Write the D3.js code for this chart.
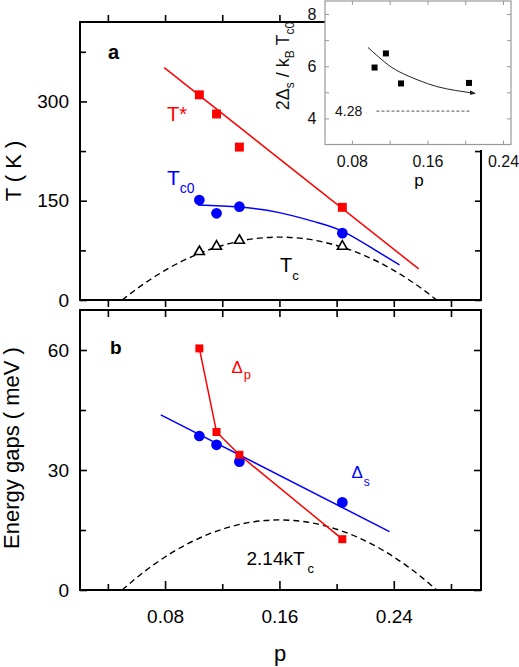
<!DOCTYPE html>
<html><head><meta charset="utf-8">
<script src="https://cdn.jsdelivr.net/npm/d3@7"></script>
<style>
html,body{margin:0;padding:0;background:#fff;}
svg{display:block;font-family:"Liberation Sans",Arial,Helvetica,sans-serif;}
</style></head>
<body><svg id="c" width="519" height="667"></svg>
<script>
// ---------- data ----------
const dopings = [0.104, 0.116, 0.132, 0.204];
const tStar = [310, 281, 231, 140];
const tc0 = [151, 131, 141, 101];
const tc = [73, 81, 90, 81];
const deltaP = [60.4, 39.5, 33.8, 12.7];
const deltaS = [38.5, 36.3, 32.1, 21.9];
const ratio = [5.95, 6.49, 5.34, 5.36];

const tStarFitP = [0.0794, 0.2574];
const tStarFitT = [351, 47];
const tc0FitP = [0.103, 0.132, 0.160, 0.185, 0.204, 0.225, 0.244];
const tc0FitT = [143.5, 140.5, 132, 118, 104, 78, 53];
const deltaSFitP = [0.077, 0.237];
const deltaSFitE = [43.8, 14.6];

const domeP = [0.05,0.06,0.07,0.08,0.09,0.10,0.11,0.12,0.13,0.14,0.15,0.16,0.17,0.18,0.19,0.20,0.21,0.22,0.23,0.24,0.25,0.26,0.27];
const tcDome = [0,16.5,31.4,44.8,56.6,66.7,75.4,82.4,87.9,91.9,94.2,95,94.2,91.9,87.9,82.4,75.4,66.7,56.6,44.8,31.4,16.5,0];
const gapDome = [0,3.04,5.79,8.26,10.44,12.30,13.90,15.19,16.21,16.95,17.37,17.52,17.37,16.95,16.21,15.19,13.90,12.30,10.44,8.26,5.79,3.04,0];

const insetFitP = [0.097, 0.115, 0.130, 0.150, 0.170, 0.190, 0.210];
const insetFitV = [6.72, 6.15, 5.79, 5.47, 5.22, 5.07, 4.96];
const bcsP = [0.106, 0.205];
const bcsV = [4.28, 4.28];

const xMajor = [0.08, 0.16, 0.24];
const xAll = [0.04, 0.08, 0.12, 0.16, 0.20, 0.24, 0.28];
const xMinor = [0.04, 0.12, 0.20, 0.28];
const yTopMajor = [0, 150, 300];
const yTopMinor = [75, 225, 375];
const yBotMajor = [0, 30, 60];
const yBotMinor = [15, 45];
const inXMajor = [0.08, 0.16, 0.24];
const inXMinor = [0.12, 0.20];
const inYMajor = [4, 6, 8];
const inYMinor = [5, 7];

// ---------- layout ----------
const svg = d3.select("#c");
const L = 80, R = 481;
const x = d3.scaleLinear([0.0205, 0.301], [L, R]);
const yT = d3.scaleLinear([0, 420], [300, 22]);
const yB = d3.scaleLinear([0, 70], [590, 310]);
const xI = d3.scaleLinear([0.0515, 0.2485], [325, 511]);
const yI = d3.scaleLinear([3, 8.5], [144.5, 1]);
const RED = "#ff0000", BLUE = "#0000ff";

function axis(gen, tx, ty, vals, size, fmt, pad, fs, color) {
  const g = svg.append("g").attr("transform", `translate(${tx},${ty})`)
    .call(gen.tickValues(vals).tickSize(size).tickPadding(pad)
      .tickFormat(fmt ? (d => fmt(d)) : () => ""));
  g.select(".domain").remove();
  g.selectAll("line").attr("stroke", color || "#000").attr("stroke-width", color ? 1 : 1.6);
  g.selectAll("text").attr("font-size", fs || 19).attr("fill", "#000").attr("font-family", null);
  if (!fmt) g.selectAll("text").remove();
  return g;
}
const f2 = d3.format(".2f");

// ---- panel a frame & axes
svg.append("rect").attr("x", L).attr("y", yT(420)).attr("width", R - L).attr("height", yT(0) - yT(420))
  .attr("fill", "none").attr("stroke", "#000").attr("stroke-width", 2);
axis(d3.axisTop(x), 0, yT(0), xAll, -7, null, 3);
axis(d3.axisBottom(x), 0, yT(420), xAll, -7, null, 3);
axis(d3.axisLeft(yT), L, 0, yTopMajor, -7, d => d, 11);
axis(d3.axisLeft(yT), L, 0, yTopMinor, -6, null, 11);
axis(d3.axisRight(yT), R, 0, yTopMajor.concat(yTopMinor), -6, null, 3);

// ---- panel b frame & axes
svg.append("rect").attr("x", L).attr("y", yB(70)).attr("width", R - L).attr("height", yB(0) - yB(70))
  .attr("fill", "none").attr("stroke", "#000").attr("stroke-width", 2);
axis(d3.axisBottom(x), 0, yB(0), xMajor, -9, f2, 19.5);
axis(d3.axisBottom(x), 0, yB(0), xMinor, -6, null, 19);
axis(d3.axisTop(x), 0, yB(70), xAll, -7, null, 3);
axis(d3.axisLeft(yB), L, 0, yBotMajor, -7, d => d, 11);
axis(d3.axisLeft(yB), L, 0, yBotMinor, -6, null, 11);
axis(d3.axisRight(yB), R, 0, yBotMajor.concat(yBotMinor), -7, null, 3);

// ---- axis titles
svg.append("text").attr("transform", "translate(21,171) rotate(-90)").attr("text-anchor", "middle")
  .attr("font-size", 22).text("T ( K )");
svg.append("text").attr("transform", "translate(19,448) rotate(-90)").attr("text-anchor", "middle")
  .attr("font-size", 22).text("Energy gaps ( meV )");
svg.append("text").attr("x", 280).attr("y", 661).attr("text-anchor", "middle").attr("font-size", 22).text("p");
svg.append("text").attr("x", 108).attr("y", 59).attr("font-size", 20).attr("font-weight", "bold").text("a");
svg.append("text").attr("x", 110).attr("y", 354).attr("font-size", 19).attr("font-weight", "bold").text("b");

const line = (xs, ys, sx, sy, curve) => d3.line().curve(curve || d3.curveLinear)
  .x((d, i) => sx(xs[i])).y((d, i) => sy(ys[i]))(xs);

// ---- panel a data
svg.append("path").attr("d", line(domeP, tcDome, x, yT, d3.curveNatural)).attr("fill", "none")
  .attr("stroke", "#000").attr("stroke-width", 1.4).attr("stroke-dasharray", "6,4");
svg.append("path").attr("d", line(tStarFitP, tStarFitT, x, yT)).attr("fill", "none")
  .attr("stroke", RED).attr("stroke-width", 1.5);
svg.append("path").attr("d", line(tc0FitP, tc0FitT, x, yT, d3.curveNatural)).attr("fill", "none")
  .attr("stroke", BLUE).attr("stroke-width", 1.5);
const sq = d3.symbol().type(d3.symbolSquare);
const ci = d3.symbol().type(d3.symbolCircle);
const tr = d3.symbol().type(d3.symbolTriangle).size(42);
svg.selectAll(null).data(dopings).join("path").attr("d", sq.size(80)())
  .attr("transform", (d, i) => `translate(${x(d)},${yT(tStar[i])})`).attr("fill", RED);
svg.selectAll(null).data(dopings).join("path").attr("d", ci.size(90)())
  .attr("transform", (d, i) => `translate(${x(d)},${yT(tc0[i])})`).attr("fill", BLUE);
svg.selectAll(null).data(dopings).join("path").attr("d", tr())
  .attr("transform", (d, i) => `translate(${x(d)},${yT(tc[i])})`).attr("fill", "#fff")
  .attr("stroke", "#000").attr("stroke-width", 1.6);

function label(xp, yp, main, sub, fs, sfs, color, dx, dy) {
  const t = svg.append("text").attr("x", xp).attr("y", yp).attr("fill", color).attr("font-size", fs);
  t.append("tspan").text(main);
  if (sub) t.append("tspan").attr("font-size", sfs).attr("dx", dx || 0).attr("dy", dy).text(sub);
  return t;
}
label(167, 121, "T*", null, 20, 0, RED);
label(167, 185, "T", "c0", 21, 14, BLUE, 0, 8);
label(280, 272, "T", "c", 20, 13, "#000", 0, 8);

// ---- panel b data
svg.append("path").attr("d", line(domeP, gapDome, x, yB, d3.curveNatural)).attr("fill", "none")
  .attr("stroke", "#000").attr("stroke-width", 1.4).attr("stroke-dasharray", "6,4");
svg.append("path").attr("d", line(deltaSFitP, deltaSFitE, x, yB)).attr("fill", "none")
  .attr("stroke", BLUE).attr("stroke-width", 1.5);
svg.append("path").attr("d", line(dopings, deltaP, x, yB)).attr("fill", "none")
  .attr("stroke", RED).attr("stroke-width", 1.5);
svg.selectAll(null).data(dopings).join("path").attr("d", ci.size(90)())
  .attr("transform", (d, i) => `translate(${x(d)},${yB(deltaS[i])})`).attr("fill", BLUE);
svg.selectAll(null).data(dopings).join("path").attr("d", sq.size(64)())
  .attr("transform", (d, i) => `translate(${x(d)},${yB(deltaP[i])})`).attr("fill", RED);
label(231.5, 372.5, "\u0394", "p", 17, 13, RED, 1, 6);
label(351.5, 478, "\u0394", "s", 17, 12, BLUE, 1, 8);
label(246.5, 565, "2.14kT", "c", 19, 13, "#000", 3, 8);

// ---- inset
svg.append("rect").attr("x", 325).attr("y", 0).attr("width", 194).attr("height", 150).attr("fill", "#fff");
const IG = "#999";
svg.append("rect").attr("x", 325).attr("y", 1).attr("width", 186).attr("height", 143.5)
  .attr("fill", "none").attr("stroke", IG).attr("stroke-width", 1.2);
axis(d3.axisBottom(xI), 0, yI(3), inXMajor, -4, f2, 11, 16, IG);
axis(d3.axisBottom(xI), 0, yI(3), inXMinor, -4, null, 11, 16, IG);
axis(d3.axisTop(xI), 0, yI(8.5), inXMajor.concat(inXMinor), -4, null, 3, 16, IG);
axis(d3.axisLeft(yI), 325, 0, inYMajor, -4, d => d, 8.5, 16, IG);
axis(d3.axisLeft(yI), 325, 0, inYMinor, -4, null, 8.5, 16, IG);
axis(d3.axisRight(yI), 511, 0, inYMajor.concat(inYMinor), -4, null, 3, 16, IG);
svg.selectAll("text").filter(function(){ return +this.getAttribute("font-size") === 16; }).attr("fill", "#111");

svg.append("defs").append("marker").attr("id", "arr").attr("viewBox", "0 0 10 10")
  .attr("refX", 8).attr("refY", 5).attr("markerWidth", 6).attr("markerHeight", 6)
  .attr("orient", "auto").append("path").attr("d", "M0,1L10,5L0,9z").attr("fill", "#222");
svg.append("path").attr("d", line(insetFitP, insetFitV, xI, yI, d3.curveNatural)).attr("fill", "none")
  .attr("stroke", "#222").attr("stroke-width", 1).attr("marker-end", "url(#arr)");
svg.append("path").attr("d", line(bcsP, bcsV, xI, yI)).attr("fill", "none")
  .attr("stroke", "#777").attr("stroke-width", 1.3).attr("stroke-dasharray", "3,2");
svg.selectAll(null).data(dopings).join("path").attr("d", sq.size(36)())
  .attr("transform", (d, i) => `translate(${xI(d)},${yI(ratio[i])})`).attr("fill", "#000");
svg.append("text").attr("x", 335).attr("y", 116).attr("font-size", 14).attr("fill", "#111").text("4.28");
svg.append("text").attr("x", 419).attr("y", 186).attr("text-anchor", "middle").attr("font-size", 17).text("p");
const yl = svg.append("text").attr("transform", "translate(289,66) rotate(-90)").attr("text-anchor", "middle")
  .attr("font-size", 18).attr("fill", "#111");
yl.append("tspan").text("2\u0394");
yl.append("tspan").attr("font-size", 12).attr("dy", 5).text("s");
yl.append("tspan").attr("dy", -5).text(" / k");
yl.append("tspan").attr("font-size", 12).attr("dy", 5).text("B");
yl.append("tspan").attr("dy", -5).text(" T");
yl.append("tspan").attr("font-size", 12).attr("dy", 5).text("c0");
</script></body></html>
